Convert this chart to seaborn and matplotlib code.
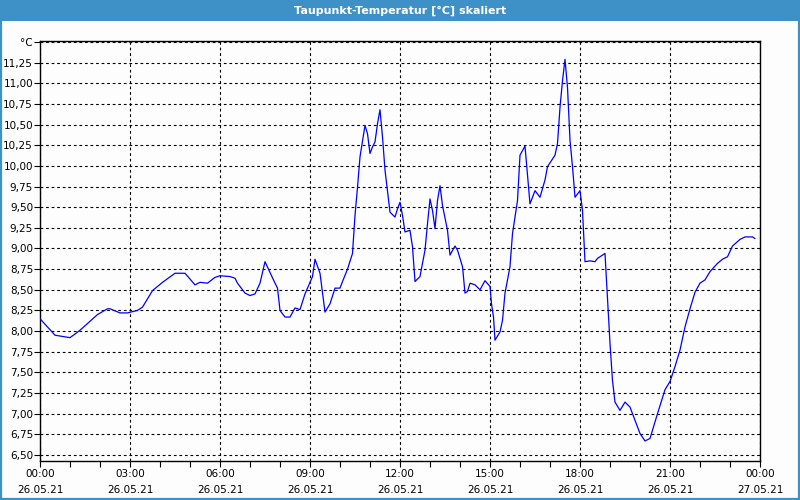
import matplotlib
matplotlib.use("Agg")
import matplotlib.pyplot as plt
import matplotlib.patches as mpatches
from matplotlib.ticker import FixedLocator, MultipleLocator
import seaborn as sns
import pandas as pd

# ---- data (minutes since 26.05.21 00:00, dew point in °C) ----
minutes = [0, 30, 60, 80, 115, 135, 140, 160, 175, 195, 205, 225, 245, 270, 290,
           310, 320, 335, 350, 360, 380, 390, 395, 410, 420, 430, 440, 450, 470,
           475, 480, 490, 500, 510, 520, 530, 545, 550, 560, 570, 580, 590, 600,
           605, 615, 625, 630, 635, 640, 650, 655, 660, 665, 670, 675, 680, 685,
           690, 695, 700, 710, 715, 720, 725, 730, 740, 745, 750, 760, 770, 775,
           780, 785, 790, 795, 800, 805, 815, 820, 830, 835, 845, 850, 855, 860,
           870, 880, 890, 900, 903, 907, 910, 920, 925, 930, 940, 945, 955, 960,
           970, 980, 990, 1000, 1010, 1015, 1030, 1035, 1040, 1045, 1050, 1055,
           1060, 1065, 1070, 1075, 1080, 1085, 1090, 1100, 1110, 1115, 1130,
           1135, 1140, 1145, 1150, 1160, 1170, 1180, 1190, 1200, 1210, 1220,
           1225, 1235, 1250, 1260, 1270, 1280, 1290, 1300, 1310, 1320, 1330,
           1340, 1355, 1365, 1375, 1385, 1400, 1410, 1425, 1430]
dewpoint = [8.15, 7.95, 7.92, 8.01, 8.20, 8.27, 8.27, 8.22, 8.22, 8.25, 8.29, 8.49,
            8.59, 8.70, 8.70, 8.56, 8.59, 8.58, 8.65, 8.67, 8.66, 8.64, 8.58, 8.46,
            8.43, 8.45, 8.58, 8.84, 8.58, 8.52, 8.25, 8.17, 8.17, 8.28, 8.26, 8.45,
            8.66, 8.87, 8.70, 8.23, 8.33, 8.52, 8.52, 8.60, 8.75, 8.94, 9.40, 9.74,
            10.11, 10.49, 10.39, 10.15, 10.23, 10.29, 10.51, 10.68, 10.35, 9.95,
            9.70, 9.44, 9.38, 9.48, 9.56, 9.40, 9.20, 9.22, 9.02, 8.60, 8.66, 8.98,
            9.30, 9.60, 9.46, 9.24, 9.58, 9.76, 9.52, 9.22, 8.92, 9.03, 8.98, 8.78,
            8.46, 8.48, 8.58, 8.56, 8.50, 8.61, 8.54, 8.33, 8.17, 7.89, 7.99, 8.13,
            8.46, 8.78, 9.18, 9.58, 10.13, 10.24, 9.54, 9.70, 9.62, 9.83, 9.99,
            10.13, 10.27, 10.71, 11.03, 11.29, 10.95, 10.31, 9.99, 9.62, 9.66,
            9.70, 9.46, 8.84, 8.85, 8.84, 8.88, 8.94, 8.40, 7.85, 7.40, 7.14, 7.04,
            7.14, 7.08, 6.92, 6.76, 6.67, 6.70, 6.80, 7.00, 7.29, 7.39, 7.57, 7.77,
            8.05, 8.27, 8.47, 8.58, 8.62, 8.72, 8.82, 8.87, 8.90, 9.03, 9.11, 9.14,
            9.14, 9.12]

title = "Taupunkt-Temperatur [°C] skaliert"
unit_label = "°C"
time_labels = ["00:00", "03:00", "06:00", "09:00", "12:00", "15:00", "18:00", "21:00", "00:00"]
date_labels = ["26.05.21"] * 8 + ["27.05.21"]
y_ticks = [6.50, 6.75, 7.00, 7.25, 7.50, 7.75, 8.00, 8.25, 8.50, 8.75, 9.00, 9.25,
           9.50, 9.75, 10.00, 10.25, 10.50, 10.75, 11.00, 11.25, 11.50]

df = pd.DataFrame({"minute": minutes, "dewpoint": dewpoint})

sns.set_style("white")
plt.rcParams["font.family"] = ["DejaVu Sans"]

fig = plt.figure(figsize=(8, 5), dpi=100)
fig.patch.set_facecolor("#fcfdfc")
ax = fig.add_axes([0.05, 0.078, 0.90, 0.840])
ax.set_facecolor("#fcfdfc")

sns.lineplot(data=df, x="minute", y="dewpoint", ax=ax, color="#0000ff",
             linewidth=0.9, zorder=3)

ax.set_xlim(0, 1440)
ax.set_ylim(6.427, 11.512)

# x ticks
major_x = [i * 180 for i in range(9)]
ax.xaxis.set_major_locator(FixedLocator(major_x))
ax.xaxis.set_minor_locator(MultipleLocator(60))
ax.set_xticklabels([f"{t}\n{d}" for t, d in zip(time_labels, date_labels)],
                   fontsize=7.5, linespacing=1.7, color="black")
ax.tick_params(axis="x", which="both", direction="out", length=4, width=0.8,
               color="black", pad=2, bottom=True, labelcolor="black")

# y ticks
ax.yaxis.set_major_locator(FixedLocator(y_ticks))
ylabels = [f"{v:.2f}".replace(".", ",") for v in y_ticks]
ylabels[-1] = unit_label
ax.set_yticklabels(ylabels, fontsize=7.5, color="black")
ax.tick_params(axis="y", which="major", direction="out", length=4, width=0.8,
               color="black", pad=1, left=True, labelcolor="black")

ax.grid(True, which="major", color="black", linestyle=(0, (2.5, 2.5)),
        linewidth=0.8, zorder=1)
ax.set_xlabel("")
ax.set_ylabel("")
for s in ax.spines.values():
    s.set_visible(True)
    s.set_color("black")
    s.set_linewidth(1.0)

# title bar and frame
blue = "#3e91c7"
fig.patches.append(mpatches.Rectangle((0, 0.958), 1, 0.042, transform=fig.transFigure,
                                      facecolor=blue, edgecolor="none", zorder=0))
fig.patches.append(mpatches.Rectangle((0.001, 0.002), 0.998, 0.998, transform=fig.transFigure,
                                      facecolor="none", edgecolor=blue, linewidth=1.6, zorder=0))
fig.text(0.5, 0.979, title, color="white", fontsize=8, fontweight="bold",
         ha="center", va="center")

fig.savefig("out.png", dpi=100, facecolor=fig.get_facecolor())
